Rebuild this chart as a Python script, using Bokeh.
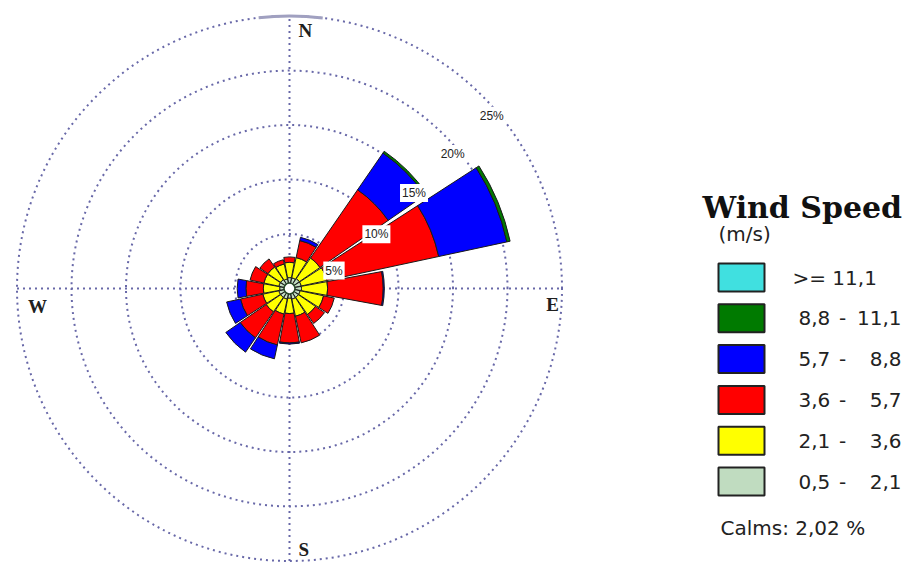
import numpy as np
from bokeh.plotting import figure
from bokeh.models import Range1d, Label
from bokeh.core.properties import value
from bokeh.embed import file_html
from bokeh.resources import INLINE

# ---------------- data ----------------
directions = ["N", "NNE", "NE", "ENE", "E", "ESE", "SE", "SSE",
              "S", "SSW", "SW", "WSW", "W", "WNW", "NW", "NNW"]
dir_deg = [0, 22.5, 45, 67.5, 90, 112.5, 135, 157.5,
           180, 202.5, 225, 247.5, 270, 292.5, 315, 337.5]

# frequency (%) per speed class and direction
f_05_21 = [0.5, 0.5, 0.6, 0.6, 0.6, 0.5, 0.5, 0.5, 0.4, 0.5, 0.5, 0.5, 0.4, 0.5, 0.5, 0.4]
f_21_36 = [1.4, 1.9, 2.3, 2.4, 2.4, 2.2, 1.9, 1.6, 1.4, 1.4, 1.6, 1.5, 1.5, 1.4, 1.4, 1.4]
f_36_57 = [0.5, 1.6, 7.6, 10.5, 5.1, 1.0, 1.0, 2.5, 2.7, 2.9, 2.9, 2.1, 1.6, 1.3, 0.9, 0.4]
f_57_88 = [0.0, 0.3, 4.1, 6.4, 0.1, 0.0, 0.0, 0.0, 0.1, 1.3, 1.6, 1.3, 0.8, 0.0, 0.0, 0.0]
f_88_111 = [0.0, 0.0, 0.2, 0.3, 0.0, 0.0, 0.0, 0.0, 0.0, 0.0, 0.0, 0.0, 0.0, 0.0, 0.0, 0.0]
f_ge_111 = [0.0] * 16

speed_labels = [">= 11,1", "8,8 - 11,1", "5,7 - 8,8", "3,6 - 5,7", "2,1 - 3,6", "0,5 - 2,1"]
ring_values = [5, 10, 15, 20, 25]
ring_labels = ["5%", "10%", "15%", "20%", "25%"]
calms = 2.02

# ---------------- style / layout ----------------
colors_low_to_high = ["#c0dcc0", "#ffff00", "#ff0000", "#0000ff", "#007a00", "#40e0e0"]
W, H = 907, 564
CX, CY = 289.0, 288.0      # centre in page pixels
S = 10.9                   # pixels per percent

def dx(xp):
    return (xp - CX) / S

def dy(yp):
    return (CY - yp) / S

p = figure(width=W, height=H, output_backend="svg", toolbar_location=None,
           x_axis_type=None, y_axis_type=None, min_border=0,
           x_range=Range1d(dx(0), dx(W)), y_range=Range1d(dy(H), dy(0)))
p.grid.visible = False
p.outline_line_color = None
p.background_fill_color = "white"

grid_col = "#6868a8"
# dotted rings
for r in ring_values:
    p.arc(x=0, y=0, radius=r, start_angle=0, end_angle=2 * np.pi,
          line_color=grid_col, line_dash="2 4", line_width=2)
# axes
R = max(ring_values)
p.segment(x0=[-R, 0], y0=[0, -R], x1=[R, 0], y1=[0, R],
          line_color=grid_col, line_dash="2 4", line_width=2)
# solid grey piece at the top of the outer ring
p.arc(x=0, y=0, radius=R, start_angle=np.deg2rad(83), end_angle=np.deg2rad(96.5),
      line_color="#a0a0c0", line_width=3)

# bars
series = [f_05_21, f_21_36, f_36_57, f_57_88, f_88_111, f_ge_111]
r0 = 0.5
cum = np.cumsum(np.vstack([np.array(s) for s in series]), axis=0) + r0
inner = np.vstack([np.full(16, r0), cum[:-1]])
half = 10.4
mid = 90 - np.array(dir_deg)
for k in range(len(series)):
    vals = np.array(series[k])
    m = vals > 0
    if not m.any():
        continue
    p.annular_wedge(x=0, y=0, inner_radius=inner[k][m], outer_radius=cum[k][m],
                    start_angle=(mid - half)[m], end_angle=(mid + half)[m],
                    start_angle_units="deg", end_angle_units="deg",
                    fill_color=colors_low_to_high[k], line_color="#1a1a1a", line_width=1)
# centre hole
p.circle(x=[0], y=[0], radius=r0, fill_color="white", line_color="#2a4a2a", line_width=1.5)

# ring labels
label_angles = [22, 32, 37.5, 39.5, 40.5]
for r, t, a in zip(ring_values, ring_labels, label_angles):
    rr = r - 0.6
    p.add_layout(Label(x=rr * np.cos(np.deg2rad(a)), y=rr * np.sin(np.deg2rad(a)), text=t,
                       text_align="center", text_baseline="middle", text_font_size="12px",
                       text_font="Liberation Sans", text_color="#222222",
                       background_fill_color="white", border_line_color=None, padding=2))

# compass labels
comp_font = value("Liberation Serif")
p.text(x=[dx(298), dx(298), dx(37), dx(552)], y=[dy(30), dy(549), dy(306), dy(304)],
       text=["N", "S", "W", "E"], text_align=["left", "left", "center", "center"],
       text_baseline="middle", text_font=comp_font, text_font_style="bold",
       text_font_size="19px", text_color="#202020")

# legend
leg_font = value("DejaVu Sans")
p.text(x=[dx(702)], y=[dy(207)], text=["Wind Speed"], text_font=value("DejaVu Serif"),
       text_font_style="bold", text_font_size="30px", text_baseline="alphabetic",
       text_color="#111111")
p.text(x=[dx(718)], y=[dy(233)], text=["(m/s)"], text_font=leg_font, text_font_size="20px",
       text_baseline="middle", text_color="#222222")

box_y = [277 + 40.8 * i for i in range(6)]
box_cols = colors_low_to_high[::-1]
p.rect(x=[dx(741)] * 6, y=[dy(y) for y in box_y], width=46 / S, height=28 / S,
       fill_color=box_cols, line_color="#222222", line_width=2)

for lab, y in zip(speed_labels, box_y):
    if " - " in lab:
        a, b = lab.split(" - ")
        p.text(x=[dx(798)], y=[dy(y)], text=[a], text_font=leg_font, text_font_size="20px",
               text_baseline="middle", text_align="left", text_color="#222222")
        p.text(x=[dx(842)], y=[dy(y)], text=["-"], text_font=leg_font, text_font_size="20px",
               text_baseline="middle", text_align="center", text_color="#222222")
        p.text(x=[dx(901)], y=[dy(y)], text=[b], text_font=leg_font, text_font_size="20px",
               text_baseline="middle", text_align="right", text_color="#222222")
    else:
        p.text(x=[dx(792)], y=[dy(y)], text=[lab], text_font=leg_font, text_font_size="20px",
               text_baseline="middle", text_align="left", text_color="#222222")

p.text(x=[dx(720)], y=[dy(527)], text=["Calms: %s %%" % f"{calms:.2f}".replace(".", ",")],
       text_font=leg_font, text_font_size="20px", text_baseline="middle", text_color="#222222")

open("out.html", "w").write(file_html(p, INLINE))
